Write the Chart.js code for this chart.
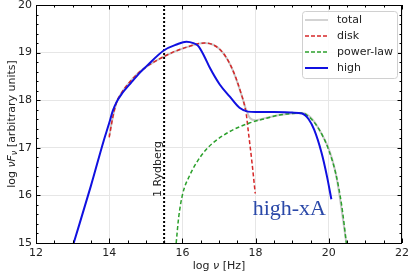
<!DOCTYPE html>
<html><head><meta charset="utf-8">
<script src="https://cdn.jsdelivr.net/npm/chart.js@4.4.0/dist/chart.umd.min.js"></script>
<style>html,body{margin:0;padding:0;background:#fff;}</style>
</head><body>
<canvas id="c" width="410" height="274"></canvas>
<script>
// ---- data ----
const highX  = [13.03,13.5,13.85,14.0,14.1,14.2,14.35,14.6,14.84,15.0,15.5,15.84,16.11,16.3,16.43,16.6,16.75,17.02,17.29,17.56,17.79,18.0,18.5,19.0,19.27,19.45,19.6,19.8,19.95,20.07];
const highY  = [15.0,16.2,17.15,17.52,17.78,17.96,18.14,18.37,18.58,18.7,19.05,19.17,19.23,19.2,19.14,18.92,18.68,18.33,18.08,17.84,17.76,17.75,17.75,17.74,17.72,17.6,17.38,16.9,16.4,15.92];
const diskX  = [14.0,14.1,14.2,14.35,14.56,14.84,15.5,16.1,16.6,17.02,17.33,17.6,17.74,17.8,17.9,17.99];
const diskY  = [17.22,17.65,17.95,18.17,18.38,18.6,18.92,19.11,19.2,19.07,18.71,18.15,17.73,17.35,16.7,16.04];
const plX    = [15.83,15.9,16.01,16.2,16.38,16.6,16.83,17.29,17.83,18.3,18.65,19.0,19.27,19.5,19.74,20.0,20.19,20.35,20.48];
const plY    = [15.0,15.55,16.04,16.42,16.68,16.92,17.1,17.34,17.52,17.62,17.69,17.72,17.73,17.62,17.38,16.95,16.46,15.8,15.0];
const totalX = [14.0,14.1,14.2,14.35,14.56,14.84,15.5,16.1,16.6,17.02,17.33,17.6,17.72,17.85,18.0,18.3,18.65,19.27,19.74,20.19,20.48];
const totalY = [17.25,17.65,17.95,18.17,18.38,18.6,18.92,19.11,19.2,19.07,18.71,18.15,17.85,17.62,17.58,17.63,17.69,17.73,17.38,16.46,15.0];
const rydX   = [15.5,15.5];
const rydY   = [15,20];
const xTicks = [12,14,16,18,20,22];
const yTicks = [15,16,17,18,19,20];
const seriesNames = ['total','disk','power-law','high'];
const rydLabel = '1 Rydberg';
const stateLabel = 'high-xA';

const pts = (xs,ys)=>xs.map((x,i)=>({x:x,y:ys[i]}));
const SANS = '"DejaVu Sans", sans-serif';
const COL = {total:'#c8c8c8', disk:'#d62728', pl:'#2ca02c', high:'#1010e0'};

function rich(ctx, parts, x, y, rot){
  ctx.save(); ctx.translate(x,y); ctx.rotate(rot);
  let w=0; parts.forEach(p=>{ctx.font=p.f; w+=ctx.measureText(p.t).width;});
  let cx=-w/2; ctx.textBaseline='middle'; ctx.textAlign='left';
  parts.forEach(p=>{ctx.font=p.f; ctx.fillText(p.t,cx,p.dy||0); cx+=ctx.measureText(p.t).width;});
  ctx.restore();
}

const deco = {
  id:'deco',
  afterDraw(chart){
    const ctx=chart.ctx, a=chart.chartArea, xs=chart.scales.x, ys=chart.scales.y;
    ctx.save();
    ctx.strokeStyle='#000'; ctx.lineWidth=1;
    ctx.strokeRect(Math.round(a.left)+0.5, Math.round(a.top)+0.5, Math.round(a.right-a.left)-1, Math.round(a.bottom-a.top));
    ctx.beginPath();
    for(let v=12; v<=22.001; v+=0.5){
      const p=Math.round(xs.getPixelForValue(v))+0.5;
      const L = (Math.abs(v/2-Math.round(v/2))<1e-6)?4.5:2.5;
      ctx.moveTo(p,a.bottom); ctx.lineTo(p,a.bottom-L);
      ctx.moveTo(p,a.top); ctx.lineTo(p,a.top+L);
    }
    for(let k=0; k<=25; k++){
      const v=15+k*0.2;
      const p=Math.round(ys.getPixelForValue(v))+0.5;
      const L=(k%5===0)?4.5:2.5;
      ctx.moveTo(a.left,p); ctx.lineTo(a.left+L,p);
      ctx.moveTo(a.right,p); ctx.lineTo(a.right-L,p);
    }
    ctx.stroke();
    ctx.fillStyle='#222';
    const n='11px '+SANS, it='italic 11px '+SANS, sub='italic 8px '+SANS;
    rich(ctx,[{t:'log ',f:n},{t:'νF',f:it},{t:'ν',f:sub,dy:3},{t:' [arbitrary units]',f:n}],12,(a.top+a.bottom)/2,-Math.PI/2);
    rich(ctx,[{t:'log ',f:n},{t:'ν',f:it},{t:' [Hz]',f:n}],(a.left+a.right)/2,266.5,0);
    rich(ctx,[{t:rydLabel,f:n}],xs.getPixelForValue(15.5)-6,169,-Math.PI/2);
    ctx.font='22px "Liberation Serif", serif'; ctx.fillStyle='#2a48a8';
    ctx.textAlign='left'; ctx.textBaseline='alphabetic';
    ctx.fillText(stateLabel, xs.getPixelForValue(17.92), ys.getPixelForValue(15.58));
    const bx=302, by=11, bw=95, bh=67;
    ctx.fillStyle='rgba(255,255,255,0.85)'; ctx.strokeStyle='#d0d0d0'; ctx.lineWidth=1;
    ctx.beginPath(); ctx.roundRect(bx+0.5,by+0.5,bw,bh,3); ctx.fill(); ctx.stroke();
    const rows=[{c:COL.total,d:[]},{c:COL.disk,d:[4,2]},{c:COL.pl,d:[4,2]},{c:COL.high,d:[]}];
    const ry=[20,36,52,68];
    rows.forEach((r,i)=>{
      ctx.strokeStyle=r.c; ctx.lineWidth=(i===3)?2:1.6; ctx.setLineDash(r.d);
      ctx.beginPath(); ctx.moveTo(305,ry[i]); ctx.lineTo(328,ry[i]); ctx.stroke();
      ctx.setLineDash([]);
      ctx.fillStyle='#222'; ctx.font=n; ctx.textBaseline='middle'; ctx.textAlign='left';
      ctx.fillText(seriesNames[i],337,ry[i]);
    });
    ctx.restore();
  }
};

new Chart(document.getElementById('c'),{
  type:'line',
  data:{datasets:[
    {label:seriesNames[0],data:pts(totalX,totalY),borderColor:COL.total,borderWidth:2,order:5},
    {label:seriesNames[1],data:pts(diskX,diskY),borderColor:COL.disk,borderWidth:1.5,borderDash:[4,2.5],order:3},
    {label:seriesNames[2],data:pts(plX,plY),borderColor:COL.pl,borderWidth:1.5,borderDash:[4,2.5],order:2},
    {label:seriesNames[3],data:pts(highX,highY),borderColor:COL.high,borderWidth:2,order:1},
    {label:'ryd',data:pts(rydX,rydY),borderColor:'#000',borderWidth:2,borderDash:[2,2],order:4,cubicInterpolationMode:'default'}
  ]},
  options:{
    responsive:false, animation:false, devicePixelRatio:1,
    layout:{padding:{top:5,right:8,left:0,bottom:0}},
    elements:{point:{radius:0},line:{tension:0,cubicInterpolationMode:'monotone',fill:false}},
    plugins:{legend:{display:false},tooltip:{enabled:false}},
    scales:{
      x:{type:'linear',min:12,max:22,
        afterBuildTicks:s=>{s.ticks=xTicks.map(v=>({value:v}));},
        afterFit:s=>{s.height=31; s.paddingLeft=0; s.paddingRight=0;},
        ticks:{font:{family:'DejaVu Sans',size:11},color:'#222',padding:4,maxRotation:0},
        grid:{color:'#e6e6e6',drawTicks:false},border:{display:false}},
      y:{type:'linear',min:15,max:20,
        afterBuildTicks:s=>{s.ticks=yTicks.map(v=>({value:v}));},
        afterFit:s=>{s.width=36; s.paddingTop=0; s.paddingBottom=0;},
        ticks:{font:{family:'DejaVu Sans',size:11},color:'#222',padding:4},
        grid:{color:'#e6e6e6',drawTicks:false},border:{display:false}}
    }
  },
  plugins:[deco]
});
</script></body></html>
